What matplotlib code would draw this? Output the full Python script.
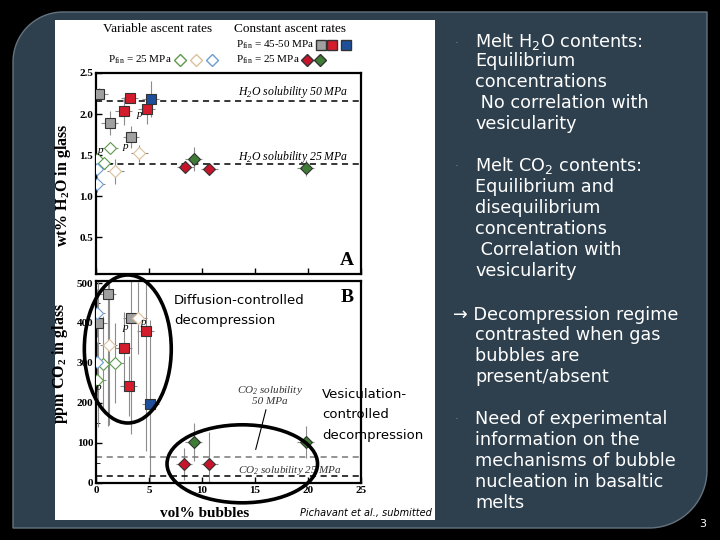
import numpy as np
import matplotlib.pyplot as plt
from matplotlib.patches import Ellipse, Rectangle, Polygon

# ---- valeurs ----
# panneau A : wt% H2O dans le verre en fonction de vol% bulles
a_gray_x, a_gray_y = [0.3, 1.3, 3.3], [2.24, 1.89, 1.72]
a_red_x, a_red_y = [3.2, 2.6, 4.8], [2.20, 2.04, 2.06]
a_blue_x, a_blue_y = [5.15], [2.18]
a_ogreen_x, a_ogreen_y = [1.3, 0.1, 0.8], [1.59, 1.45, 1.40]
a_otan_x, a_otan_y = [4.1, 1.8], [1.52, 1.30]
a_oblue_x, a_oblue_y = [0.05, 0.05], [1.33, 1.15]
a_fred_x, a_fred_y = [8.4, 10.7], [1.35, 1.33]
a_fgreen_x, a_fgreen_y = [9.2, 19.8], [1.45, 1.34]
a_yerr = {"gray": [0.08, 0.15, 0.14], "red": [0.06, 0.17, 0.18], "blue": [0.22],
          "ogreen": [0.06, 0.06, 0.06], "otan": [0.1, 0.15], "oblue": [0.08, 0.1],
          "fred": [0.06, 0.05], "fgreen": [0.15, 0.1]}
h2o_sol_50, h2o_sol_25 = 2.16, 1.39

# panneau B : ppm CO2 dans le verre
b_gray_x, b_gray_y = [1.1, 0.2, 3.3], [472, 399, 412]
b_red_x, b_red_y = [4.7, 2.6, 3.1], [381, 338, 243]
b_blue_x, b_blue_y = [5.1], [197]
b_ogreen_x, b_ogreen_y = [0.7, 1.8, 0.1], [298, 299, 258]
b_otan_x, b_otan_y = [1.2, 4.0], [346, 412]
b_oblue_x, b_oblue_y = [0.05, 0.05], [424, 302]
b_fred_x, b_fred_y = [8.3, 10.7], [48, 48]
b_fgreen_x, b_fgreen_y = [9.2, 19.8], [102, 102]
b_yerr = {"gray": [330, 260, 290], "red": [300, 90, 75], "blue": [210],
          "ogreen": [120, 100, 60], "otan": [200, 90], "oblue": [60, 50],
          "fred": [40, 80], "fgreen": [48, 40]}
co2_sol_50, co2_sol_25 = 66, 17

x_err = 0.8

styles = {
    "gray": dict(marker="s", mfc="#a0a0a0", mec="#333333", ms=7),
    "red": dict(marker="s", mfc="#d41c2c", mec="#333333", ms=7),
    "blue": dict(marker="s", mfc="#1d4f9a", mec="#333333", ms=7),
    "ogreen": dict(marker="D", mfc="white", mec="#5d9a4c", ms=6),
    "otan": dict(marker="D", mfc="white", mec="#dcc09c", ms=6),
    "oblue": dict(marker="D", mfc="white", mec="#6d9ccf", ms=6),
    "fred": dict(marker="D", mfc="#c8142a", mec="#333333", ms=6.5),
    "fgreen": dict(marker="D", mfc="#3f7c35", mec="#333333", ms=6.5),
}

serif = "Liberation Serif"

fig = plt.figure(figsize=(7.2, 5.4), dpi=100)
fig.patch.set_facecolor("black")

# fond de la diapo en coordonnees pixel
bg = fig.add_axes([0, 0, 1, 1], zorder=0)
bg.set_xlim(0, 720)
bg.set_ylim(540, 0)
bg.axis("off")

x0, y0, x1, y1, r1, r2 = 13, 12, 707, 528, 50, 58
t = np.linspace(np.pi, 1.5 * np.pi, 30)
tl = np.c_[x0 + r1 + r1 * np.cos(t), y0 + r1 + r1 * np.sin(t)]
t = np.linspace(0, 0.5 * np.pi, 30)
br = np.c_[x1 - r2 + r2 * np.cos(t), y1 - r2 + r2 * np.sin(t)]
pts = np.vstack([tl, [[x1, y0]], br, [[x0, y1]]])
bg.add_patch(Polygon(pts, closed=True, fc="#2e404e", ec="#64737e", lw=1))
bg.add_patch(Rectangle((55, 20), 380, 500, fc="white", ec="none"))

# legende du haut
bg.text(103, 29, "Variable ascent rates", family=serif, fontsize=9.5, va="center")
bg.text(234, 29, "Constant ascent rates", family=serif, fontsize=9.5, va="center")
bg.text(236, 45, r"P$_\mathregular{fin}$ = 45-50 MPa", family=serif, fontsize=8, va="center")
bg.text(108, 60, r"P$_\mathregular{fin}$ = 25 MPa", family=serif, fontsize=8, va="center")
bg.text(236, 60, r"P$_\mathregular{fin}$ = 25 MPa", family=serif, fontsize=8, va="center")
for px, key in zip([321, 332, 346], ["gray", "red", "blue"]):
    bg.plot(px, 45, ls="none", **styles[key])
for px, key in zip([180, 196, 212], ["ogreen", "otan", "oblue"]):
    bg.plot(px, 60, ls="none", **styles[key])
for px, key in zip([307, 320], ["fred", "fgreen"]):
    bg.plot(px, 60, ls="none", **styles[key])

axA = fig.add_axes([96 / 720, 1 - 274 / 540, 265 / 720, 201 / 540], zorder=2)
axB = fig.add_axes([96 / 720, 1 - 483 / 540, 265 / 720, 202 / 540], zorder=2)


def draw(ax, xs, ys, key, yerr):
    ax.errorbar(xs, ys, xerr=x_err, yerr=yerr, fmt="none", ecolor="#8c8c8c",
                elinewidth=0.8, capsize=0, zorder=2)
    ax.plot(xs, ys, ls="none", zorder=3, mew=0.8, **styles[key])


seriesA = [("gray", a_gray_x, a_gray_y), ("red", a_red_x, a_red_y),
           ("blue", a_blue_x, a_blue_y), ("ogreen", a_ogreen_x, a_ogreen_y),
           ("otan", a_otan_x, a_otan_y), ("oblue", a_oblue_x, a_oblue_y),
           ("fred", a_fred_x, a_fred_y), ("fgreen", a_fgreen_x, a_fgreen_y)]
seriesB = [("gray", b_gray_x, b_gray_y), ("red", b_red_x, b_red_y),
           ("blue", b_blue_x, b_blue_y), ("ogreen", b_ogreen_x, b_ogreen_y),
           ("otan", b_otan_x, b_otan_y), ("oblue", b_oblue_x, b_oblue_y),
           ("fred", b_fred_x, b_fred_y), ("fgreen", b_fgreen_x, b_fgreen_y)]
for key, xs, ys in seriesA:
    draw(axA, xs, ys, key, a_yerr[key])
for key, xs, ys in seriesB:
    draw(axB, xs, ys, key, b_yerr[key])

for ax in (axA, axB):
    ax.set_facecolor("none")
    ax.set_xlim(0, 25)
    ax.set_xticks([0, 5, 10, 15, 20, 25])
    ax.tick_params(direction="in", length=4, width=1, labelsize=8, pad=2)
    for s in ax.spines.values():
        s.set_linewidth(1.6)
    for lab in ax.get_xticklabels() + ax.get_yticklabels():
        lab.set_family(serif)
        lab.set_fontweight("bold")

axA.set_ylim(0.05, 2.5)
axA.set_yticks([0.5, 1.0, 1.5, 2.0, 2.5])
axA.set_yticklabels(["0.5", "1.0", "1.5", "2.0", "2.5"], family=serif, fontweight="bold")
axA.tick_params(axis="x", labelbottom=False)
axA.axhline(h2o_sol_50, color="black", ls=(0, (4, 3)), lw=1.1)
axA.axhline(h2o_sol_25, color="black", ls=(0, (4, 3)), lw=1.1)
axA.text(23.8, 2.27, r"H$_\mathregular{2}$O solubility 50 MPa", family=serif,
         style="italic", fontsize=8.5, ha="right", va="center")
axA.text(23.8, 1.48, r"H$_\mathregular{2}$O solubility 25 MPa", family=serif,
         style="italic", fontsize=8.5, ha="right", va="center")
axA.text(24.3, 0.22, "A", family=serif, fontweight="bold", fontsize=14, ha="right", va="center")
axA.set_ylabel(r"wt% H$_\mathregular{2}$O in glass", family=serif, fontweight="bold",
               fontsize=11.5)
axA.yaxis.set_label_coords(-0.087, 0.44)
for px, py in [(0.4, 1.56), (4.1, 1.99), (2.8, 1.6)]:
    axA.text(px, py, "p", family=serif, style="italic", fontsize=8, ha="center", va="center")

axB.set_ylim(0, 505)
axB.set_yticks([0, 100, 200, 300, 400, 500])
axB.set_yticks(np.arange(50, 500, 100), minor=True)
axB.tick_params(which="minor", direction="in", length=3)
axB.axhline(co2_sol_50, color="#777777", ls=(0, (4, 3)), lw=1.1)
axB.axhline(co2_sol_25, color="black", ls=(0, (4, 3)), lw=1.1)
axB.text(16.4, 221, "CO$_\\mathregular{2}$ solubility\n50 MPa", family=serif, style="italic",
         fontsize=8, ha="center", va="center", color="#333333", linespacing=1.0)
axB.annotate("", xy=(15.0, 77), xytext=(16.1, 190),
             arrowprops=dict(arrowstyle="-", color="black", lw=0.8))
axB.text(13.4, 32, "CO$_\\mathregular{2}$ solubility 25 MPa", family=serif, style="italic",
         fontsize=8, ha="left", va="center", color="#333333")
axB.text(24.3, 465, "B", family=serif, fontweight="bold", fontsize=14, ha="right", va="center")
axB.set_ylabel(r"ppm CO$_\mathregular{2}$ in glass", family=serif, fontweight="bold",
               fontsize=11.5)
axB.yaxis.set_label_coords(-0.098, 0.594)
axB.set_xlabel("vol% bubbles", family=serif, fontweight="bold", fontsize=11)
axB.xaxis.set_label_coords(0.41, -0.118)
for px, py in [(2.8, 390), (4.5, 402), (0.2, 240)]:
    axB.text(px, py, "p", family=serif, style="italic", fontsize=8, ha="center", va="center")

axB.add_patch(Ellipse((3.0, 335), 8.2, 370, fill=False, ec="black", lw=2.6, clip_on=False, zorder=5))
axB.add_patch(Ellipse((13.8, 48), 14.2, 195, fill=False, ec="black", lw=2.6, clip_on=False, zorder=5))

axB.text(7.35, 457, "Diffusion-controlled", fontsize=9.5, va="center")
axB.text(7.35, 407, "decompression", fontsize=9.5, va="center")
for i, line in enumerate(["Vesiculation-", "controlled", "decompression"]):
    axB.text(21.3, 220 - 50 * i, line, fontsize=9.5, va="center", clip_on=False, zorder=1)

bg.text(300, 513, "Pichavant et al., submitted", style="italic", fontsize=7, va="center")

# texte de la diapo
sans = ["DejaVu Sans"]
lines = [
    (475, 41, "Melt H$_\\mathregular{2}$O contents:"), (475, 61, "Equilibrium"),
    (475, 82, "concentrations"), (475, 103, " No correlation with"), (475, 124, "vesicularity"),
    (475, 166, "Melt CO$_\\mathregular{2}$ contents:"), (475, 187, "Equilibrium and"),
    (475, 208, "disequilibrium"), (475, 229, "concentrations"), (475, 250, " Correlation with"),
    (475, 271, "vesicularity"),
    (453, 315, "\u2192 Decompression regime"), (475, 335, "contrasted when gas"),
    (475, 356, "bubbles are"), (475, 377, "present/absent"),
    (475, 419, "Need of experimental"), (475, 440, "information on the"),
    (475, 461, "mechanisms of bubble"), (475, 482, "nucleation in basaltic"), (475, 503, "melts"),
]
for px, py, s in lines:
    bg.text(px, py, s, family=sans, fontsize=12.7, color="white", va="center")
for py in [43, 166, 419]:
    bg.text(455, py, "\u00b7", family=sans, fontsize=8, color="#7d8d98", va="center")
bg.text(703, 524, "3", family=sans, fontsize=8, color="white", ha="center", va="center")

fig.savefig("out.png", dpi=100, facecolor="black")
